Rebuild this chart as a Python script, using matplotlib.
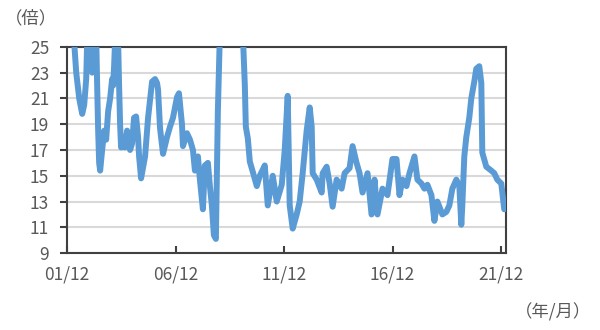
import matplotlib
matplotlib.use('Agg')
import matplotlib.pyplot as plt
import matplotlib.dates as mdates
import pandas as pd
import numpy as np

plt.rcParams['font.family'] = ['Noto Sans CJK JP', 'DejaVu Sans']

# decimal year / PER (values above 25 run off the top of the chart)
years = [
    2001.917, 2002.055, 2002.239, 2002.331, 2002.469, 2002.607, 2002.699, 2002.791,
    2002.837, 2002.975, 2003.067, 2003.113, 2003.251, 2003.297, 2003.343, 2003.389,
    2003.435, 2003.527, 2003.619, 2003.711, 2003.803, 2003.895, 2003.987, 2004.033,
    2004.079, 2004.125, 2004.263, 2004.309, 2004.355, 2004.401, 2004.493, 2004.585,
    2004.677, 2004.769, 2004.815, 2004.907, 2004.999, 2005.091, 2005.183, 2005.229,
    2005.321, 2005.505, 2005.643, 2005.827, 2005.965, 2006.057, 2006.103, 2006.195,
    2006.333, 2006.517, 2006.655, 2006.793, 2006.977, 2007.069, 2007.207, 2007.253,
    2007.437, 2007.575, 2007.713, 2007.805, 2007.943, 2008.035, 2008.173, 2008.265,
    2008.403, 2008.495, 2008.587, 2008.679, 2008.771, 2008.817, 2008.863, 2008.955,
    2009.415, 2010.013, 2010.105, 2010.151, 2010.243, 2010.335, 2010.473, 2010.657,
    2010.795, 2011.025, 2011.163, 2011.393, 2011.577, 2011.807, 2011.945, 2012.083,
    2012.175, 2012.313, 2012.497, 2012.635, 2012.773, 2012.957, 2013.095, 2013.187,
    2013.233, 2013.417, 2013.647, 2013.693, 2013.877, 2014.015, 2014.153, 2014.337,
    2014.567, 2014.705, 2014.935, 2015.073, 2015.257, 2015.395, 2015.533, 2015.763,
    2015.947, 2016.085, 2016.223, 2016.453, 2016.683, 2016.913, 2017.097, 2017.235,
    2017.373, 2017.557, 2017.695, 2017.925, 2018.063, 2018.247, 2018.385, 2018.523,
    2018.707, 2018.845, 2018.983, 2019.213, 2019.397, 2019.535, 2019.673, 2019.857,
    2019.995, 2020.087, 2020.133, 2020.225, 2020.317, 2020.455, 2020.547, 2020.685,
    2020.777, 2020.915, 2021.007, 2021.053, 2021.237, 2021.467, 2021.605, 2021.743,
    2021.927, 2022.065,
]
per = [
    28.0, 27.0, 25.3, 23.0, 21.0, 19.8, 20.5, 22.5,
    25.5, 26.0, 23.0, 25.5, 26.0, 22.0, 18.5, 16.0,
    15.4, 17.0, 18.5, 17.8, 20.0, 21.0, 22.5, 22.0,
    23.5, 25.5, 25.5, 22.0, 19.0, 17.2, 18.0, 17.2,
    18.5, 17.5, 17.0, 17.5, 19.5, 19.6, 18.0, 16.5,
    14.8, 16.5, 19.5, 22.3, 22.5, 22.2, 21.7, 18.7,
    16.7, 18.0, 18.8, 19.5, 21.1, 21.4, 19.0, 17.3,
    18.3, 17.8, 17.0, 15.4, 16.5, 14.7, 12.4, 15.8,
    16.0, 14.2, 12.7, 10.4, 10.1, 15.2, 20.0, 26.0,
    30.0, 26.0, 22.0, 18.8, 17.9, 16.1, 15.3, 14.2,
    15.0, 15.8, 12.7, 15.0, 13.0, 14.3, 17.0, 21.2,
    12.7, 10.9, 12.0, 13.0, 15.2, 18.5, 20.3, 18.8,
    15.2, 14.7, 13.7, 15.2, 15.7, 14.4, 12.6, 14.7,
    14.0, 15.2, 15.6, 17.3, 16.0, 15.2, 13.7, 15.2,
    12.0, 14.7, 12.0, 14.0, 13.5, 16.3, 16.3, 13.5,
    14.7, 14.2, 15.2, 16.5, 14.7, 14.4, 14.0, 14.3,
    13.5, 11.5, 13.0, 12.0, 12.2, 12.7, 14.0, 14.7,
    14.2, 11.2, 12.7, 16.5, 18.0, 19.5, 21.0, 22.3,
    23.3, 23.5, 22.2, 16.8, 15.7, 15.4, 15.2, 14.7,
    14.4, 12.4,
]
tick_dates = ['2001-12-01', '2006-12-01', '2011-12-01', '2016-12-01', '2021-12-01']
yticks = [9, 11, 13, 15, 17, 19, 21, 23, 25]


def to_date(y):
    yr = int(y)
    return pd.Timestamp(yr, 1, 1) + pd.Timedelta(days=(y - yr) * 365.25)


dates = [to_date(y) for y in years]

fig = plt.figure(figsize=(6, 3.3), dpi=100)
ax = fig.add_axes([0.112, 0.233, 0.731, 0.625])

ax.plot(dates, per, color='#5B9BD5', lw=4.3, solid_joinstyle='round',
        solid_capstyle='round', zorder=3)

ax.set_ylim(9, 25)
ax.set_xlim(pd.Timestamp('2001-12-01'), pd.Timestamp('2022-02-20'))
ax.set_yticks(yticks)
ax.set_xticks([pd.Timestamp(d) for d in tick_dates])
ax.xaxis.set_major_formatter(mdates.DateFormatter('%y/%m'))

ax.grid(axis='y', color='#d9d9d9', lw=1.5)
ax.set_axisbelow(True)
for s in ax.spines.values():
    s.set_color('#404040')
    s.set_linewidth(1.5)

ax.tick_params(axis='y', direction='out', length=5, width=1.5, color='#404040',
               labelsize=12.5, labelcolor='#595959', pad=8)
ax.tick_params(axis='x', direction='in', length=5, width=1.5, color='#404040',
               labelsize=12.5, labelcolor='#595959', pad=9)

fig.text(0.008, 0.945, '（倍）', fontsize=12.5, color='#595959', va='center')
fig.text(0.985, 0.055, '（年/月）', fontsize=12.5, color='#595959', va='center', ha='right')

fig.savefig('out.png', dpi=100)
